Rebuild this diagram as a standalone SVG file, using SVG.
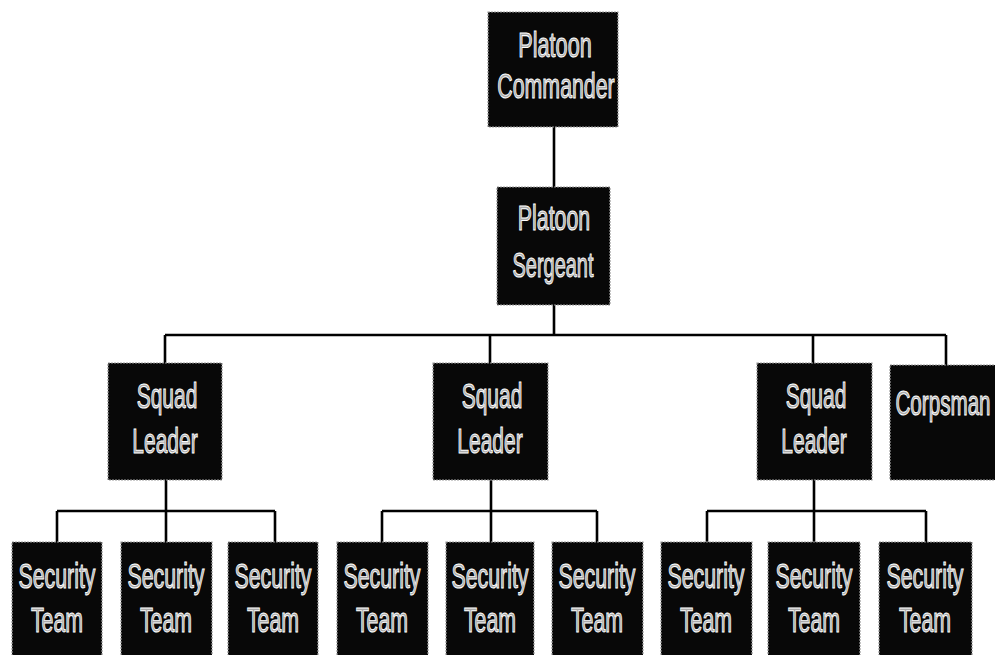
<svg xmlns="http://www.w3.org/2000/svg" width="995" height="655" viewBox="0 0 995 655">
<style>
.box{fill:#080808;stroke:#9a9a9a;stroke-width:1.2;stroke-dasharray:2 1}
.t{font-family:"Liberation Sans",Arial,sans-serif;font-size:35px;fill:#a8a8a8;stroke:#ffffff;stroke-width:1;text-anchor:middle}
.c{fill:none;stroke:#000;stroke-width:2.6}
</style>
<rect width="995" height="655" fill="#fff"/>
<g id="connectors">
<path class="c" d="M554 127V187M554 305V335M165 335H946M165 335V363M490 335V363M813 335V363M946 335V365"/>
<path class="c" d="M166 480V511M57 511H275M57 511V542M166 511V542M275 511V542"/>
<path class="c" d="M491 480V511M382 511H597M382 511V542M491 511V542M597 511V542"/>
<path class="c" d="M814 480V511M707 511H926M707 511V542M814 511V542M926 511V542"/>
</g>
<g id="platoon-commander">
<rect class="box" x="488" y="12" width="130" height="115"/>
<text class="t" transform="translate(555 57) scale(0.62 1)">Platoon</text>
<text class="t" transform="translate(556 98) scale(0.61 1)">Commander</text>
</g>
<g id="platoon-sergeant">
<rect class="box" x="497" y="187" width="113" height="118"/>
<text class="t" transform="translate(554 230) scale(0.61 1)">Platoon</text>
<text class="t" transform="translate(553 277) scale(0.57 1)">Sergeant</text>
</g>
<g id="squad-leader-1">
<rect class="box" x="108" y="363" width="114" height="117"/>
<text class="t" transform="translate(167 408) scale(0.6 1)">Squad</text>
<text class="t" transform="translate(165 453) scale(0.6 1)">Leader</text>
</g>
<g id="squad-leader-2">
<rect class="box" x="433" y="363" width="115" height="117"/>
<text class="t" transform="translate(492 408) scale(0.6 1)">Squad</text>
<text class="t" transform="translate(490 453) scale(0.6 1)">Leader</text>
</g>
<g id="squad-leader-3">
<rect class="box" x="757" y="363" width="115" height="117"/>
<text class="t" transform="translate(816 408) scale(0.6 1)">Squad</text>
<text class="t" transform="translate(814 453) scale(0.6 1)">Leader</text>
</g>
<g id="corpsman">
<rect class="box" x="890" y="365" width="110" height="115"/>
<text class="t" transform="translate(943 415) scale(0.59 1)">Corpsman</text>
</g>
<g id="security-team-1">
<rect class="box" x="12" y="542" width="90" height="120"/>
<text class="t" transform="translate(57 588) scale(0.61 1)">Security</text>
<text class="t" transform="translate(57 632) scale(0.61 1)">Team</text>
</g>
<g id="security-team-2">
<rect class="box" x="121" y="542" width="91" height="120"/>
<text class="t" transform="translate(166 588) scale(0.61 1)">Security</text>
<text class="t" transform="translate(166 632) scale(0.61 1)">Team</text>
</g>
<g id="security-team-3">
<rect class="box" x="228" y="542" width="90" height="120"/>
<text class="t" transform="translate(273 588) scale(0.61 1)">Security</text>
<text class="t" transform="translate(273 632) scale(0.61 1)">Team</text>
</g>
<g id="security-team-4">
<rect class="box" x="337" y="542" width="91" height="120"/>
<text class="t" transform="translate(382 588) scale(0.61 1)">Security</text>
<text class="t" transform="translate(382 632) scale(0.61 1)">Team</text>
</g>
<g id="security-team-5">
<rect class="box" x="446" y="542" width="88" height="120"/>
<text class="t" transform="translate(490 588) scale(0.61 1)">Security</text>
<text class="t" transform="translate(490 632) scale(0.61 1)">Team</text>
</g>
<g id="security-team-6">
<rect class="box" x="552" y="542" width="91" height="120"/>
<text class="t" transform="translate(597 588) scale(0.61 1)">Security</text>
<text class="t" transform="translate(597 632) scale(0.61 1)">Team</text>
</g>
<g id="security-team-7">
<rect class="box" x="661" y="542" width="91" height="120"/>
<text class="t" transform="translate(706 588) scale(0.61 1)">Security</text>
<text class="t" transform="translate(706 632) scale(0.61 1)">Team</text>
</g>
<g id="security-team-8">
<rect class="box" x="768" y="542" width="92" height="120"/>
<text class="t" transform="translate(814 588) scale(0.61 1)">Security</text>
<text class="t" transform="translate(814 632) scale(0.61 1)">Team</text>
</g>
<g id="security-team-9">
<rect class="box" x="879" y="542" width="93" height="120"/>
<text class="t" transform="translate(925 588) scale(0.61 1)">Security</text>
<text class="t" transform="translate(925 632) scale(0.61 1)">Team</text>
</g>
</svg>
